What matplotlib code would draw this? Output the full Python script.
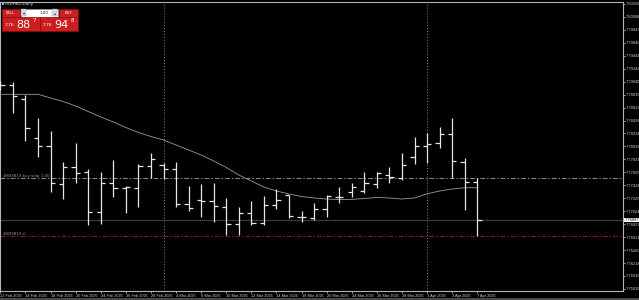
import matplotlib
matplotlib.use("Agg")
import matplotlib.pyplot as plt
from matplotlib.patches import Rectangle

# ---------------- data ----------------
symbol = "USDHKD,Daily"
x_labels = ["12 Feb 2025", "14 Feb 2025", "18 Feb 2025", "20 Feb 2025", "24 Feb 2025",
            "26 Feb 2025", "28 Feb 2025", "4 Mar 2025", "6 Mar 2025", "10 Mar 2025",
            "12 Mar 2025", "14 Mar 2025", "18 Mar 2025", "20 Mar 2025", "24 Mar 2025",
            "26 Mar 2025", "28 Mar 2025", "1 Apr 2025", "3 Apr 2025", "7 Apr 2025"]
x_label_bars = [0, 2, 4, 6, 8, 10, 12, 14, 16, 18, 20, 22, 24, 26, 28, 30, 32, 34, 36, 38]

opens = [7.78973, 7.78994, 7.78766, 7.78159, 7.78039, 7.77448, 7.77717, 7.77639, 7.77007, 7.77468,
         7.77381, 7.77386, 7.77728, 7.77748, 7.77677, 7.77136, 7.77199, 7.77178, 7.77094, 7.76825,
         7.76992, 7.76836, 7.77121, 7.77272, 7.76939, 7.76914, 7.77054, 7.77250, 7.77318, 7.77343,
         7.77448, 7.77588, 7.77537, 7.77863, 7.78039, 7.78086, 7.78222, 7.77790, 7.77474]
highs = [7.79051, 7.79040, 7.78833, 7.78471, 7.78273, 7.77795, 7.78091, 7.77677, 7.77639, 7.77821,
         7.77417, 7.77755, 7.77935, 7.77779, 7.77795, 7.77417, 7.77448, 7.77463, 7.77225, 7.77094,
         7.77188, 7.77266, 7.77365, 7.77280, 7.77032, 7.77147, 7.77277, 7.77396, 7.77459, 7.77630,
         7.77630, 7.77708, 7.77935, 7.78184, 7.78237, 7.78331, 7.78471, 7.77848, 7.77537]
lows = [7.78911, 7.78548, 7.78122, 7.77863, 7.77328, 7.77210, 7.77468, 7.76810, 7.76825, 7.77241,
        7.77001, 7.77094, 7.77537, 7.77521, 7.77094, 7.77032, 7.76939, 7.76853, 7.76654, 7.76654,
        7.76810, 7.76810, 7.77054, 7.76914, 7.76861, 7.76887, 7.76929, 7.77147, 7.77250, 7.77303,
        7.77381, 7.77459, 7.77510, 7.77755, 7.77779, 7.78004, 7.77546, 7.77043, 7.76643]
closes = [7.78994, 7.78822, 7.78315, 7.78035, 7.77459, 7.77708, 7.77624, 7.77007, 7.77468, 7.77381,
          7.77396, 7.77728, 7.77842, 7.77677, 7.77136, 7.77074, 7.77188, 7.77101, 7.76825, 7.76992,
          7.76836, 7.77121, 7.77199, 7.76954, 7.76929, 7.77054, 7.77261, 7.77250, 7.77396, 7.77459,
          7.77614, 7.77552, 7.77744, 7.78039, 7.78071, 7.78222, 7.77811, 7.77484, 7.76887]
ma_values = [7.78844, 7.78844, 7.78844, 7.78844, 7.78787, 7.78732, 7.78662, 7.78576, 7.78491, 7.78413,
             7.78327, 7.78250, 7.78187, 7.78133, 7.78055, 7.77977, 7.77899, 7.77806, 7.77705, 7.77588,
             7.77494, 7.77401, 7.77339, 7.77292, 7.77253, 7.77230, 7.77214, 7.77206, 7.77209, 7.77222,
             7.77238, 7.77230, 7.77214, 7.77230, 7.77295, 7.77339, 7.77370, 7.77390, 7.77390]
y_tick_values = [7.80250, 7.80048, 7.79847, 7.79645, 7.79444, 7.79242, 7.79040, 7.78839, 7.78637,
                 7.78436, 7.78234, 7.78032, 7.77831, 7.77629, 7.77428, 7.77226, 7.77024, 7.76823,
                 7.76621, 7.76420, 7.76218, 7.76016, 7.75815]
separator_bars = [13, 34]
bid_price = 7.76887
buy_stop_price = 7.77537
sl_price = 7.76643
order_label = "#803813 buy stop 1.00"
sl_label = "#803813 sl"
sell_quote = ("7.76", "88", "7")
buy_quote = ("7.76", "94", "8")
lot_text = "1.00"

# ---------------- figure ----------------
W, H = 639, 300
fig = plt.figure(figsize=(W / 100, H / 100), dpi=100, facecolor="black")
top_px, bot_px, right_px = 2.0, 290.5, 623.0
ax = fig.add_axes([0, (H - bot_px) / H, right_px / W, (bot_px - top_px) / H])
ax.set_facecolor("black")

px_per_bar = 12.55
ax.set_xlim(-0.03, right_px / px_per_bar - 0.03)
ax.set_ylim(7.75790, 7.80281)

bar_col = "#e6e6e6"
n = len(opens)
xs = list(range(n))
tick_w = 0.34
ax.vlines(xs, lows, highs, color=bar_col, lw=0.9, zorder=4)
ax.hlines(opens, [x - tick_w for x in xs], xs, color=bar_col, lw=0.9, zorder=4)
ax.hlines(closes, xs, [x + tick_w for x in xs], color=bar_col, lw=0.9, zorder=4)

ax.plot(xs, ma_values, color="#9a9a9a", lw=0.6, zorder=3)

# price lines
ax.axhline(bid_price, color="#3a3a3a", lw=0.9, zorder=2)
ax.axhline(buy_stop_price, color="#8c8c8c", lw=0.7, dashes=(5, 2, 1.5, 2), zorder=2)
ax.axhline(sl_price, color="#a01010", lw=0.7, dashes=(5, 2, 1.5, 2), zorder=2)
ytr = ax.get_yaxis_transform()
ax.text(0.005, buy_stop_price, order_label, transform=ytr, fontsize=2.8, color="#a0a0a0",
        va="bottom", ha="left", family="DejaVu Sans")
ax.text(0.005, sl_price, sl_label, transform=ytr, fontsize=2.8, color="#a0a0a0",
        va="bottom", ha="left", family="DejaVu Sans")

for b in separator_bars:
    ax.axvline(b, color="#8a8a8a", lw=0.7, ls=(0, (1, 2)), zorder=1)

# axes styling
for s in ax.spines.values():
    s.set_color("#b4b4b4")
    s.set_linewidth(0.8)
ax.yaxis.tick_right()
ax.set_yticks(y_tick_values)
ax.set_yticklabels([f"{v:.5f}" for v in y_tick_values])
ax.set_xticks(x_label_bars)
ax.set_xticklabels(x_labels)
ax.tick_params(axis="y", colors="#b4b4b4", labelcolor="#d0d0d0", labelsize=2.9,
               length=1.3, width=0.6, pad=0.7)
ax.tick_params(axis="x", colors="#b4b4b4", labelcolor="#d0d0d0", labelsize=2.8,
               length=1.5, width=0.6, pad=1)
for lab in ax.get_xticklabels():
    lab.set_ha("left")
    lab.set_family("Liberation Sans")
for lab in ax.get_yticklabels():
    lab.set_family(["Liberation Sans Narrow", "Liberation Sans"])

# ---------------- overlay (pixel coordinates) ----------------
ov = fig.add_axes([0, 0, 1, 1], zorder=10)
ov.set_xlim(0, W)
ov.set_ylim(H, 0)
ov.axis("off")
ov.patch.set_alpha(0)

ov.add_patch(Rectangle((0, 297.5), W, 2.5, fc="#4a4a4a", ec="none"))
ov.add_patch(Rectangle((1.5, 2.2), 2.3, 2.6, fc="#7fb0e0", ec="none"))
ov.text(5, 3.6, symbol, fontsize=3, color="#e0e0e0", va="center", ha="left")

red = "#cc1e1e"
edge = "#8a0f0f"
ov.add_patch(Rectangle((2, 8.5), 17.5, 8, fc=red, ec=edge, lw=0.4))
ov.text(10.7, 12.6, "SELL", fontsize=2.8, color="white", ha="center", va="center")
ov.add_patch(Rectangle((20.5, 8.5), 37.5, 8, fc="white", ec="#9a9a9a", lw=0.4))
ov.add_patch(Rectangle((21.3, 9.3), 5, 6.4, fc="#dcdcdc", ec="#9a9a9a", lw=0.3))
ov.add_patch(Rectangle((52.2, 9.3), 5, 6.4, fc="#dcdcdc", ec="#9a9a9a", lw=0.3))
ov.text(23.8, 12.6, "▾", fontsize=3, color="#333333", ha="center", va="center")
ov.text(54.7, 12.6, "▴", fontsize=3, color="#333333", ha="center", va="center")
ov.text(44, 12.6, lot_text, fontsize=3, color="#222222", ha="center", va="center")
ov.add_patch(Rectangle((59, 8.5), 18.5, 8, fc=red, ec=edge, lw=0.4))
ov.text(68.2, 12.6, "BUY", fontsize=2.8, color="white", ha="center", va="center")

for x0, q in ((2, sell_quote), (40, buy_quote)):
    ov.add_patch(Rectangle((x0, 17.3), 37.5, 13.5, fc=red, ec=edge, lw=0.4))
    ov.text(x0 + 2.5, 25.2, q[0], fontsize=3.2, color="white", ha="left", va="center")
    ov.text(x0 + 14.3, 25.2, q[1], fontsize=8, color="white", ha="left", va="center")
    ov.text(x0 + 30.3, 20.5, q[2], fontsize=4, color="white", ha="left", va="center")

# bid price box on the scale
y_bid_px = top_px + (ax.get_ylim()[1] - bid_price) / (ax.get_ylim()[1] - ax.get_ylim()[0]) * (bot_px - top_px)
ov.add_patch(Rectangle((right_px + 0.5, y_bid_px - 2.4), 15.3, 4.8, fc="white", ec="none"))
ov.text(right_px + 1.8, y_bid_px, f"{bid_price:.5f}", fontsize=2.9, color="black",
        ha="left", va="center", family=["Liberation Sans Narrow", "Liberation Sans"])

fig.savefig("out.png", dpi=100, facecolor="black")
